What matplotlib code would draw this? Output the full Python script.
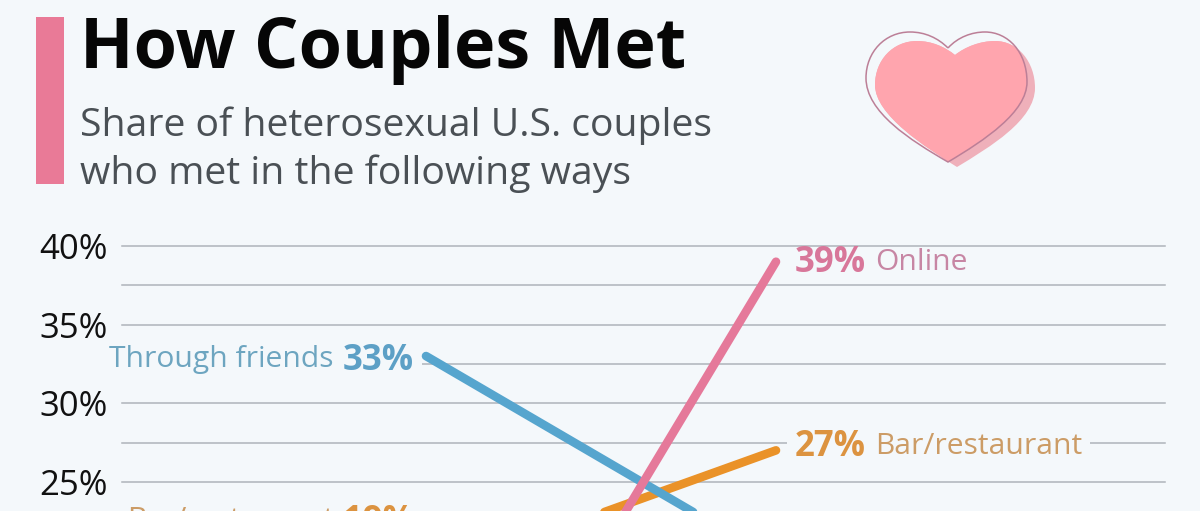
import matplotlib
matplotlib.use('Agg')
import matplotlib.pyplot as plt
from matplotlib.path import Path
from matplotlib.patches import PathPatch, Rectangle
from matplotlib.transforms import IdentityTransform

# values
periods = [0, 1]
online = [2, 39]
friends = [33, 20]
bar = [19, 27]
y_ticks = [25, 30, 35, 40]
y_minor = [27.5, 32.5, 37.5]
tick_labels = ['25%', '30%', '35%', '40%']

bg = '#F4F8FB'
pink = '#E5799A'
blue = '#56A5CE'
orange = '#EA9228'

plt.rcParams['font.family'] = ['Open Sans', 'DejaVu Sans']

fig = plt.figure(figsize=(12, 5.11), dpi=100, facecolor=bg)

# axes span the gridlines, 40% at y=246 px and cut off at the image bottom
ax = fig.add_axes([122 / 1200, 0, (1165 - 122) / 1200, (511 - 246) / 511])
ax.set_facecolor('none')
ax.set_xlim((122 - 426) / 350, (1165 - 426) / 350)
ax.set_ylim(40 - (511 - 246) / 15.72, 40)
for s in ax.spines.values():
    s.set_visible(False)
ax.set_xticks([])
ax.set_yticks(y_ticks)
ax.set_yticklabels(tick_labels, fontsize=25, color='#111111')
ax.set_yticks(y_minor, minor=True)
ax.tick_params(axis='y', which='both', length=0, pad=10.5)
ax.grid(axis='y', which='both', color='#AEB4BA', lw=1.1, clip_on=False)
ax.set_axisbelow(True)

ax.plot(periods, bar, color=orange, lw=6.2, solid_capstyle='round', zorder=3)
ax.plot(periods, friends, color=blue, lw=6.2, solid_capstyle='round', zorder=4)
ax.plot(periods, online, color=pink, lw=6.2, solid_capstyle='round', zorder=5)


def pair_label(x, y, value, name, c_value, c_name, side):
    # bold value next to the line end, regular name on the outer side
    ha = 'left' if side == 'right' else 'right'
    off = 19 if side == 'right' else -12
    t = ax.annotate(value, (x, y), xytext=(off, 0), textcoords='offset pixels', ha=ha, va='center_baseline',
                    fontsize=25, fontweight='bold', color=c_value, zorder=2, annotation_clip=False)
    rend = fig.canvas.get_renderer()
    box1 = t.get_window_extent(rend)
    shift = box1.width + 9
    off2 = off + shift if side == 'right' else off - shift
    t2 = ax.annotate(name, (x, y), xytext=(off2, 0), textcoords='offset pixels', ha=ha, va='center_baseline',
                     fontsize=21.6, color=c_name, zorder=2, annotation_clip=False)
    box2 = t2.get_window_extent(rend)
    # gridlines stop around the label, the mask is lower than the text box
    x0 = min(box1.x0, box2.x0) - 8
    x1 = max(box1.x1, box2.x1) + 8
    yc = (box1.y0 + box1.y1) / 2
    ax.add_patch(Rectangle((x0, yc - 14.5), x1 - x0, 29, fc=bg, ec='none', zorder=1.5,
                           transform=IdentityTransform(), clip_on=False))


pair_label(1, 39.2, '39%', 'Online', '#D8779A', '#C786A4', 'right')
pair_label(1, 27.5, '27%', 'Bar/restaurant', '#DC9340', '#CC9C66', 'right')
pair_label(0, 33, '33%', 'Through friends', '#5DA0C6', '#6DA5C0', 'left')
pair_label(0, 22.76, '19%', 'Bar/restaurant', '#DC9340', '#CC9C66', 'left')

# header and heart, in image pixels
over = fig.add_axes([0, 0, 1, 1], zorder=10)
over.set_xlim(0, 1200)
over.set_ylim(511, 0)
over.axis('off')
over.add_patch(Rectangle((36, 17), 28, 167, fc='#E97A97', ec='none'))
over.text(79.5, 68, 'How Couples Met', fontsize=50.5, fontweight='bold', color='#060606', va='baseline')
over.text(80, 136, 'Share of heterosexual U.S. couples', fontsize=28.2, color='#4A5055', va='baseline')
over.text(80, 184, 'who met in the following ways', fontsize=28.2, color='#4A5055', va='baseline')

codes = [Path.MOVETO] + [Path.CURVE4] * 18
outline_path = Path([(948, 48), (958, 37), (972, 32), (985, 32), (1008, 32), (1027, 52), (1027, 82),
                     (1027, 112), (985, 140), (948, 162), (910, 140), (866, 112), (866, 78),
                     (866, 52), (885, 32), (910, 32), (925, 32), (938, 38), (948, 48)], codes)
fill_path = Path([(955, 55), (965, 47), (980, 41), (995, 41), (1018, 41), (1035, 62), (1035, 88),
                  (1035, 120), (990, 147), (957, 167), (925, 147), (875, 115), (875, 85),
                  (875, 60), (893, 41), (917, 41), (932, 41), (945, 47), (955, 55)], codes)

over.add_patch(PathPatch(fill_path, fc='#EFB0BA', ec='none'))
inner = PathPatch(fill_path, fc='#FFA5AE', ec='none')
over.add_patch(inner)
inner.set_clip_path(PathPatch(outline_path, transform=over.transData))
over.add_patch(PathPatch(outline_path, fc='none', ec='#BC7F97', lw=1.1))

fig.savefig('out.png', dpi=100, facecolor=bg)
